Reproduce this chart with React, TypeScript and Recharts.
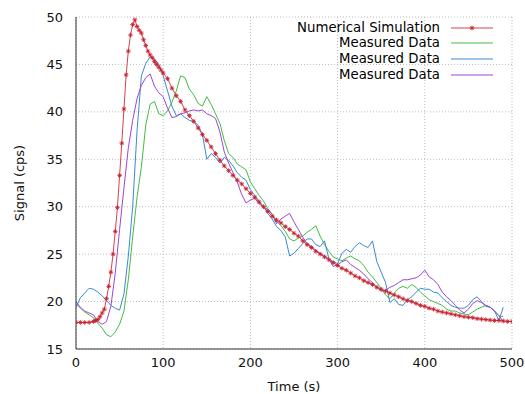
import React from 'react';
import {
  LineChart,
  Line,
  XAxis,
  YAxis,
  CartesianGrid,
  Legend
} from 'recharts';

// simulation samples (s) and signal (cps)
const simTime = [
  0, 5, 10, 15, 20, 22.5, 25, 27.5, 30, 32.5, 35, 37.5, 40, 42.5, 45, 47.5, 50,
  52.5, 55, 57.5, 60, 62.5, 65, 67.5, 70, 72.5, 75, 77.5, 80, 82.5, 85, 87.5, 90,
  92.5, 95, 97.5, 100, 105, 110, 115, 120, 125, 130, 135, 140, 145, 150, 155,
  160, 165, 170, 175, 180, 185, 190, 195, 200, 205, 210, 215, 220, 225, 230,
  235, 240, 245, 250, 255, 260, 265, 270, 275, 280, 285, 290, 295, 300, 305,
  310, 315, 320, 325, 330, 335, 340, 345, 350, 355, 360, 365, 370, 375, 380,
  385, 390, 395, 400, 405, 410, 415, 420, 425, 430, 435, 440, 445, 450, 455,
  460, 465, 470, 475, 480, 485, 490, 495, 500
];
const simSignal = [
  17.8, 17.8, 17.8, 17.8, 17.9, 18.0, 18.1, 18.4, 18.8, 19.2, 20.3, 21.6, 23.1,
  25.0, 27.4, 29.9, 33.3, 36.7, 40.3, 43.9, 46.4, 48.1, 49.2, 49.7, 49.0, 48.6,
  48.3, 47.6, 47.0, 46.4, 46.0, 45.7, 45.3, 45.0, 44.7, 44.4, 44.1, 43.5, 42.5,
  41.7, 41.1, 40.2, 39.6, 39.0, 38.3, 37.6, 37.0, 36.3, 35.6, 34.9, 34.3, 33.8,
  33.3, 32.8, 32.4, 31.9, 31.4, 31.0, 30.5, 30.0, 29.5, 29.0, 28.6, 28.3, 27.9,
  27.6, 27.2, 26.9, 26.4, 26.0, 25.7, 25.3, 25.0, 24.7, 24.4, 24.1, 23.8, 23.5,
  23.3, 23.0, 22.7, 22.5, 22.2, 22.0, 21.8, 21.5, 21.3, 21.1, 20.9, 20.7, 20.5,
  20.3, 20.1, 20.0, 19.8, 19.6, 19.5, 19.3, 19.2, 19.0, 18.9, 18.8, 18.7, 18.6,
  18.5, 18.4, 18.35, 18.3, 18.2, 18.15, 18.1, 18.05, 18.0, 18.0, 17.95, 17.9, 17.9
];

// measured runs, one value every 5 s from 0 to 490 s
const measStep = 5;
const greenSignal = [
  19.8, 19.3, 18.9, 18.6, 18.3, 17.7, 17.2, 16.5, 16.3, 16.8, 17.6, 19.0, 22.3,
  26.8, 31.0, 34.2, 38.6, 40.8, 41.1, 39.8, 39.6, 40.1, 41.0, 42.2, 43.8, 43.6,
  42.4, 41.8, 40.9, 40.6, 41.6, 40.8, 39.8, 38.8, 37.0, 35.6, 35.2, 34.5, 34.2,
  33.9, 32.6, 31.9, 31.2, 30.6, 29.8, 29.2, 28.5, 28.0, 27.4, 26.6, 26.4, 26.7,
  26.9, 27.3, 27.6, 28.0, 26.9, 26.0, 25.3, 24.7, 24.5, 24.3, 24.6, 24.8, 24.5,
  24.3, 23.8, 23.1, 22.6, 22.0, 21.4, 20.7, 20.3, 20.9, 21.4, 21.6, 21.4, 21.8,
  21.5, 21.0, 20.6, 20.2, 20.0, 19.8, 19.6, 19.2, 19.0, 19.0, 18.8, 18.7, 18.6,
  18.9, 19.2, 19.4, 19.6, 19.4, 19.0, 18.5, 18.4
];
const blueSignal = [
  19.4, 20.4, 20.9, 21.4, 21.3, 21.0, 20.6, 20.1, 19.6, 19.3, 19.1, 20.8, 24.8,
  30.0, 38.0, 43.8, 45.1, 45.8, 45.6, 45.0, 43.8, 42.2, 40.6, 39.6, 39.8, 39.4,
  39.1, 39.0, 38.6, 37.6, 35.0, 35.6, 35.2, 34.6, 35.2, 34.9, 34.3, 33.6, 33.1,
  32.8, 31.8, 31.2, 30.6, 30.0, 29.3, 28.7, 27.9, 27.5, 26.8, 24.8, 25.1, 25.6,
  26.1, 26.6, 26.6, 26.0, 25.8, 26.4, 24.5, 24.2, 24.0, 25.1, 25.5, 25.2, 25.8,
  26.2, 25.9, 25.7, 26.4, 24.2, 23.1, 22.0, 19.9, 20.3, 19.7, 19.6, 20.2, 20.5,
  21.0, 21.4, 21.3, 21.3, 21.0, 20.9, 20.4, 20.0, 19.6, 19.4, 19.3, 19.3, 19.6,
  20.2, 20.5, 20.0, 19.5, 19.4, 19.0, 18.0, 19.4
];
const purpleSignal = [
  20.0, 19.4, 19.0, 18.8, 18.6, 17.9, 17.6, 17.9, 19.5, 23.0, 27.6, 32.0, 36.2,
  39.1, 41.4, 42.8, 43.6, 44.0, 42.7, 42.0, 41.6, 40.4, 39.4, 39.5, 39.8, 39.9,
  40.1, 40.2, 40.1, 40.2, 39.8, 39.6, 39.3, 37.9, 35.8, 34.6, 33.6, 32.6, 31.3,
  30.4, 30.7, 30.9, 30.3, 30.0, 29.7, 29.2, 28.2, 28.7, 29.0, 29.3, 28.4, 27.6,
  26.8, 26.1, 25.8, 25.4, 25.1, 24.8, 24.5, 23.7, 23.9, 24.2, 24.4, 23.9, 23.6,
  23.3, 22.9, 22.4, 22.0, 21.5, 21.1, 21.2, 21.5, 21.7, 22.0, 22.3, 22.3, 22.4,
  22.5, 22.8, 23.3, 22.6, 22.3, 21.8, 21.0, 20.5, 20.1, 19.6, 19.1, 18.8, 19.2,
  19.8, 20.1, 19.9, 19.6, 19.4, 19.0, 18.5, 17.9
];

const xTicks = [0, 100, 200, 300, 400, 500];
const yTicks = [15, 20, 25, 30, 35, 40, 45, 50];

const seriesNames = ['Numerical Simulation', 'Measured Data', 'Measured Data', 'Measured Data'];
const seriesColors = ['#d8404e', '#44bb44', '#3a8ad2', '#a044d4'];
const markerColor = '#c8222e';

const toRows = (values: number[]) =>
  values.map((v, i) => ({ t: i * measStep, v }));

const simData = simTime.map((t, i) => ({ t, v: simSignal[i] }));
const measured = [greenSignal, blueSignal, purpleSignal].map(toRows);

// gnuplot-style asterisk marker
const StarDot = (props: any) => {
  const { cx, cy, index } = props;
  if (cx == null || cy == null) return <g key={index} />;
  const r = 2.3;
  const d = r * 0.7;
  return (
    <path
      key={index}
      d={`M${cx - r},${cy}H${cx + r}M${cx},${cy - r}V${cy + r}M${cx - d},${cy - d}L${cx + d},${cy + d}M${cx - d},${cy + d}L${cx + d},${cy - d}`}
      stroke={markerColor}
      strokeWidth={0.9}
      fill="none"
    />
  );
};

const renderLegend = () => (
  <div style={{ fontFamily: 'DejaVu Sans', fontSize: 13.3, color: '#000' }}>
    {seriesNames.map((name, i) => (
      <div
        key={i}
        style={{ display: 'flex', justifyContent: 'flex-end', alignItems: 'center', height: 15.6, paddingRight: 12 }}
      >
        <span style={{ lineHeight: '16px' }}>{name}</span>
        <svg width={53} height={16}>
          <line x1={11} y1={8} x2={53} y2={8} stroke={seriesColors[i]} strokeWidth={1} />
          {i === 0 && <StarDot cx={32} cy={8} index={0} />}
        </svg>
      </div>
    ))}
  </div>
);

const App: React.FC = () => {
  return (
    <div style={{ position: 'absolute', left: 0, top: 0, width: 525, height: 394, background: '#fff' }}>
      <LineChart
        width={525}
        height={394}
        margin={{ top: 17, right: 13, bottom: 0, left: 16 }}
        style={{ fontFamily: 'DejaVu Sans', fontSize: 13 }}
      >
        <CartesianGrid strokeDasharray="1 2" stroke="#bcbcbc" />
        <XAxis
          dataKey="t"
          type="number"
          domain={[0, 500]}
          ticks={xTicks}
          allowDataOverflow
          height={45}
          tickLine={false}
          tickSize={0}
          tickMargin={9}
          axisLine={{ stroke: '#333' }}
          tick={{ fill: '#111', fontSize: 13 }}
          label={{ value: 'Time (s)', position: 'insideBottom', offset: 3, fill: '#111', fontSize: 13 }}
        />
        <XAxis
          xAxisId="top"
          orientation="top"
          type="number"
          domain={[0, 500]}
          ticks={xTicks}
          height={0}
          mirror
          tick={false}
          tickSize={4}
          axisLine={{ stroke: '#333' }}
          tickLine={{ stroke: '#333' }}
        />
        <YAxis
          type="number"
          domain={[15, 50]}
          ticks={yTicks}
          allowDataOverflow
          width={60}
          tickLine={false}
          tickSize={0}
          tickMargin={13}
          axisLine={{ stroke: '#333' }}
          tick={{ fill: '#111', fontSize: 13 }}
          label={{
            value: 'Signal (cps)',
            angle: -90,
            position: 'insideLeft',
            offset: 3,
            fill: '#111',
            fontSize: 13,
            style: { textAnchor: 'middle' }
          }}
        />
        <YAxis
          yAxisId="right"
          orientation="right"
          type="number"
          domain={[15, 50]}
          ticks={yTicks}
          width={0}
          mirror
          tick={false}
          tickSize={4}
          axisLine={{ stroke: '#333' }}
          tickLine={{ stroke: '#333' }}
        />
        <Legend
          layout="horizontal"
          verticalAlign="middle"
          align="center"
          wrapperStyle={{ top: 20, left: 285, width: 220 }}
          content={renderLegend}
        />
        {measured.map((rows, i) => (
          <Line
            key={i}
            data={rows}
            dataKey="v"
            name={seriesNames[i + 1]}
            type="linear"
            stroke={seriesColors[i + 1]}
            strokeWidth={1}
            dot={false}
            isAnimationActive={false}
          />
        ))}
        <Line
          data={simData}
          dataKey="v"
          name={seriesNames[0]}
          type="linear"
          stroke={seriesColors[0]}
          strokeWidth={1}
          dot={StarDot}
          isAnimationActive={false}
        />
      </LineChart>
    </div>
  );
};

export default App;
